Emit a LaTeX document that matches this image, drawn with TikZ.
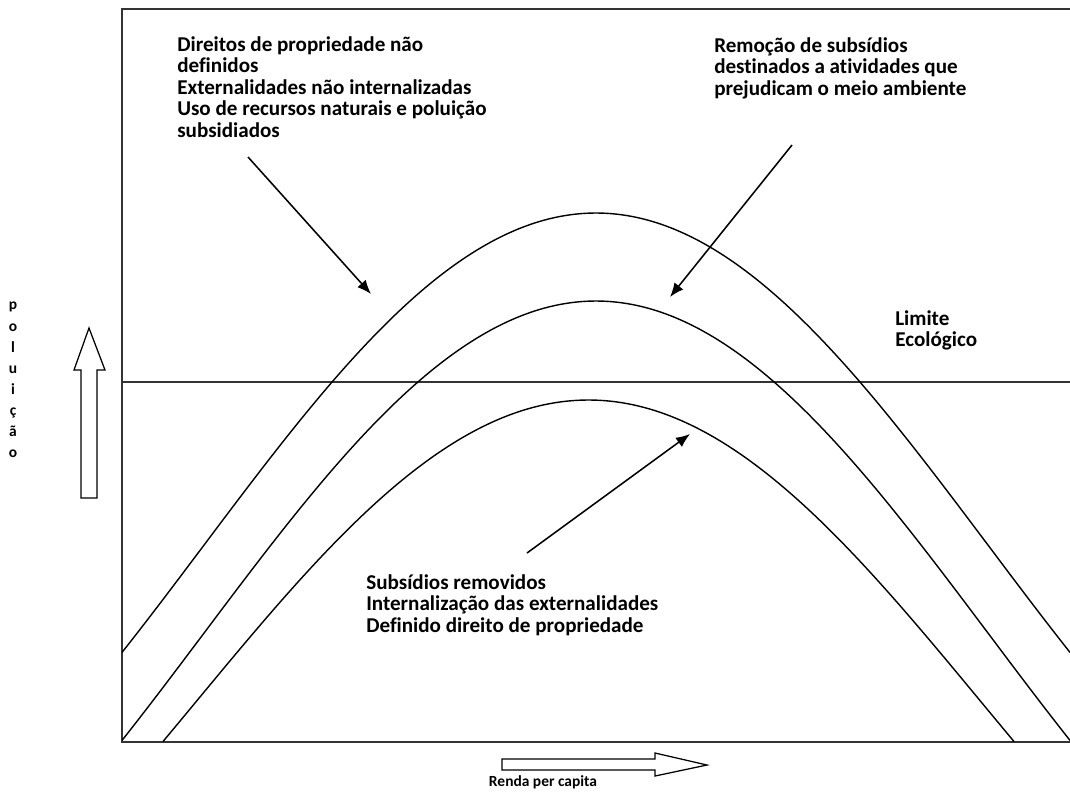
\documentclass[tikz,border=0pt]{standalone}
\usepackage{fontspec}
\setmainfont{Carlito}[Ligatures=NoCommon]
\usetikzlibrary{arrows.meta}

\tikzset{
	rotulo/.style={font=\fontsize{15}{15.3}\selectfont\bfseries, align=left, anchor=north west, inner sep=0pt},
	miudo/.style={font=\fontsize{11}{15}\selectfont\bfseries, align=center, inner sep=0pt},
	eixo/.style={line width=1.3pt, black!80},
	curva/.style={line width=1pt, domain=#1, samples=150, smooth},
	seta/.style={line width=1.1pt, -{Latex[length=10pt,width=8pt]}},
	oca/.style={line width=0.9pt, fill=white}
}

\begin{document}
\begin{tikzpicture}[x=0.025cm, y=-0.025cm]
	\useasboundingbox (0, 0) rectangle (1070, 792);
	\draw[eixo] (1070, 9) -- (122, 9) -- (122, 742) -- (1070, 742);
	\draw[eixo, line width=1.1pt] (122, 382) -- (1070, 382);
	
	\begin{scope}
		\clip (122, 9) rectangle (1070, 742);
		\draw[curva=122:1070] plot (\x, {213+333*(1-cos(0.22918*(\x-596)))});
		\draw[curva=122:1070] plot (\x, {301+333*(1-cos(0.22918*(\x-596)))});
		\draw[curva=163:1014] plot (\x, {400+302*(1-cos(0.22918*(\x-588.5)))});
	\end{scope}
	
	\draw[oca] (81, 498) -- (81, 370) -- (74, 370) -- (89, 328) -- (105, 370) -- (97, 370) -- (97, 498) -- cycle;
	\draw[oca] (502, 759) -- (655, 759) -- (655, 753) -- (707, 765) -- (655, 776) -- (655, 770) -- (502, 770) -- cycle;
	
	\node[rotulo] (semdireitos) at (177, 36) {Direitos de propriedade não\\definidos\\Externalidades não internalizadas\\Uso de recursos naturais e poluição\\subsidiados};
	\node[rotulo] (remocao) at (714, 37) {Remoção de subsídios\\destinados a atividades que\\prejudicam o meio ambiente};
	\node[rotulo] (removidos) at (366, 574) {Subsídios removidos\\Internalização das externalidades\\Definido direito de propriedade};
	\node[rotulo] (limite) at (895, 310) {Limite\\Ecológico};
	\node[miudo] (renda) at (543, 782) {Renda per capita};
	\node[miudo, anchor=north] (poluicao) at (13, 302) {p\\o\\l\\u\\i\\ç\\ã\\o};
	
	\coordinate (s1) at (248, 157);
	\coordinate (p1) at (371, 294);
	\coordinate (s2) at (792, 145);
	\coordinate (p2) at (670, 297);
	\coordinate (s3) at (527, 553);
	\coordinate (p3) at (690, 434);
	\draw[seta] (s1) -- (p1);
	\draw[seta] (s2) -- (p2);
	\draw[seta] (s3) -- (p3);
\end{tikzpicture}
\end{document}
